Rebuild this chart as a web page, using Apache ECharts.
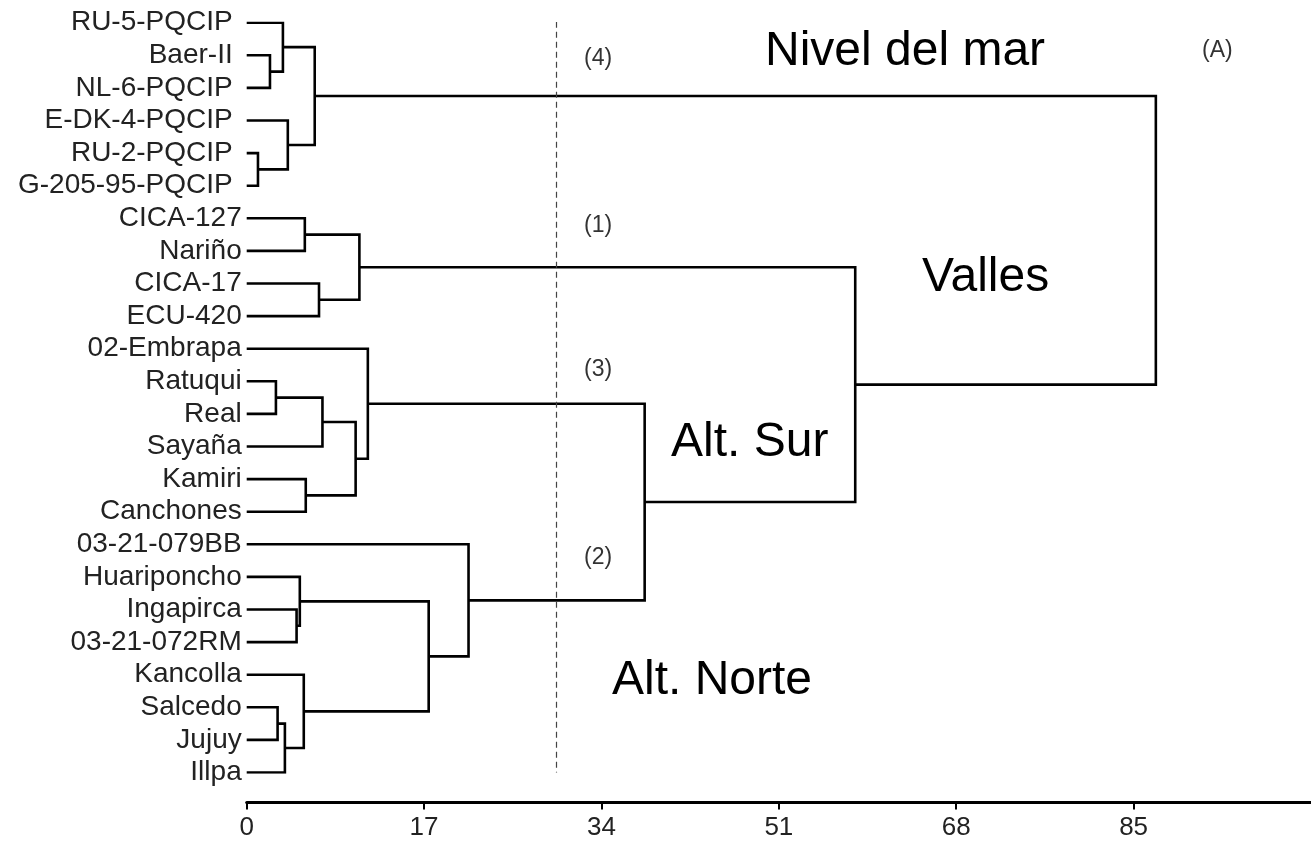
<!DOCTYPE html>
<html>
<head>
<meta charset="utf-8">
<script src="https://cdn.jsdelivr.net/npm/echarts@6/dist/echarts.min.js"></script>
<style>
  html, body { margin: 0; padding: 0; background: #fff; }
  #chart { width: 1311px; height: 846px; }
</style>
</head>
<body>
<div id="chart"></div>
<script>
// Accessions, top to bottom, in dendrogram leaf order
const leaves = [
  'RU-5-PQCIP', 'Baer-II', 'NL-6-PQCIP', 'E-DK-4-PQCIP', 'RU-2-PQCIP', 'G-205-95-PQCIP',
  'CICA-127', 'Nariño', 'CICA-17', 'ECU-420',
  '02-Embrapa', 'Ratuqui', 'Real', 'Sayaña', 'Kamiri', 'Canchones',
  '03-21-079BB', 'Huariponcho', 'Ingapirca', '03-21-072RM', 'Kancolla', 'Salcedo', 'Jujuy', 'Illpa'
];

// Linkage: [child A, child B, distance]; ids >= leaves.length refer to earlier merges
const merges = [
  [1, 2, 2.23],    // 24
  [0, 24, 3.47],   // 25
  [4, 5, 1.08],    // 26
  [3, 26, 3.94],   // 27
  [25, 27, 6.52],  // 28  sea level group
  [6, 7, 5.57],    // 29
  [8, 9, 6.93],    // 30
  [29, 30, 10.80], // 31  valleys
  [11, 12, 2.80],  // 32
  [32, 13, 7.26],  // 33
  [14, 15, 5.66],  // 34
  [33, 34, 10.44], // 35
  [10, 35, 11.61], // 36  southern altiplano
  [18, 19, 4.78],  // 37
  [17, 37, 5.09],  // 38
  [21, 22, 2.96],  // 39
  [39, 23, 3.66],  // 40
  [20, 40, 5.47],  // 41
  [38, 41, 17.44], // 42
  [16, 42, 21.26], // 43  northern altiplano
  [36, 43, 38.14], // 44
  [31, 44, 58.32], // 45
  [28, 45, 87.13]  // 46  root
];

// Distance axis
const axisMax = 102;
const tickStep = 17;

// Cut level drawn as a dashed reference line
const cutDistance = 29.7;

// Build node positions and the elbow paths of the tree
const nodeY = leaves.map((_, i) => i);
const nodeH = leaves.map(() => 0);
const treePaths = [];
merges.forEach(([a, b, h]) => {
  treePaths.push({
    coords: [[nodeH[a], nodeY[a]], [h, nodeY[a]], [h, nodeY[b]], [nodeH[b], nodeY[b]]]
  });
  nodeY.push((nodeY[a] + nodeY[b]) / 2);
  nodeH.push(h);
});

const FONT = "'Liberation Sans', Arial, Helvetica, sans-serif";

const chart = echarts.init(document.getElementById('chart'), null, { renderer: 'canvas' });

// Group names, placed by the vertical centre of their glyphs
function bigText(text, left, centerY) {
  return {
    type: 'text', left: left, top: centerY - 22, silent: true,
    style: { text: text, font: '48px ' + FONT, fill: '#000' }
  };
}
// Cluster numbers and panel letter
function smallText(text, left, centerY) {
  return {
    type: 'text', left: left, top: centerY - 11, silent: true,
    style: { text: text, font: '23px ' + FONT, fill: '#333' }
  };
}

chart.setOption({
  animation: false,
  backgroundColor: '#fff',
  grid: { left: 246.7, top: 22.7, width: 1068, height: 749.8, containLabel: false },
  xAxis: {
    type: 'value', min: 0, max: axisMax, interval: tickStep, offset: 30,
    splitLine: { show: false },
    axisLine: { onZero: false, lineStyle: { color: '#000', width: 3 } },
    axisTick: { show: true, length: 7, lineStyle: { color: '#000', width: 2 } },
    axisLabel: { showMaxLabel: false, fontSize: 26, fontFamily: FONT, color: '#222', margin: 12 }
  },
  yAxis: {
    type: 'value', min: 0, max: leaves.length - 1, interval: 1, inverse: true,
    splitLine: { show: false },
    axisLine: { show: false, onZero: false },
    axisTick: { show: false },
    axisLabel: {
      fontSize: 28, fontFamily: FONT, color: '#222', margin: 5,
      formatter: v => {
        const i = Math.round(v);
        const name = leaves[i] || '';
        // the sea-level accessions sit a little further from their branches
        return i < 6 ? '{far|' + name + '}' : name;
      },
      rich: { far: { fontSize: 28, fontFamily: FONT, color: '#222', padding: [0, 9, 0, 0] } }
    }
  },
  series: [
    {
      type: 'lines', coordinateSystem: 'cartesian2d', polyline: true, silent: true,
      lineStyle: { color: '#000', width: 2.6, opacity: 1 },
      data: treePaths
    },
    {
      type: 'lines', coordinateSystem: 'cartesian2d', polyline: false, silent: true,
      lineStyle: { color: '#444', width: 1.2, opacity: 1, type: [6, 4] },
      data: [{ coords: [[cutDistance, -0.03], [cutDistance, leaves.length - 1]] }]
    }
  ],
  graphic: [
    bigText('Nivel del mar', 765, 50),
    bigText('Valles', 922, 276),
    bigText('Alt. Sur', 671, 441),
    bigText('Alt. Norte', 612, 679),
    smallText('(4)', 584, 58),
    smallText('(1)', 584, 225),
    smallText('(3)', 584, 369),
    smallText('(2)', 584, 557),
    smallText('(A)', 1202, 50)
  ]
});
</script>
</body>
</html>
